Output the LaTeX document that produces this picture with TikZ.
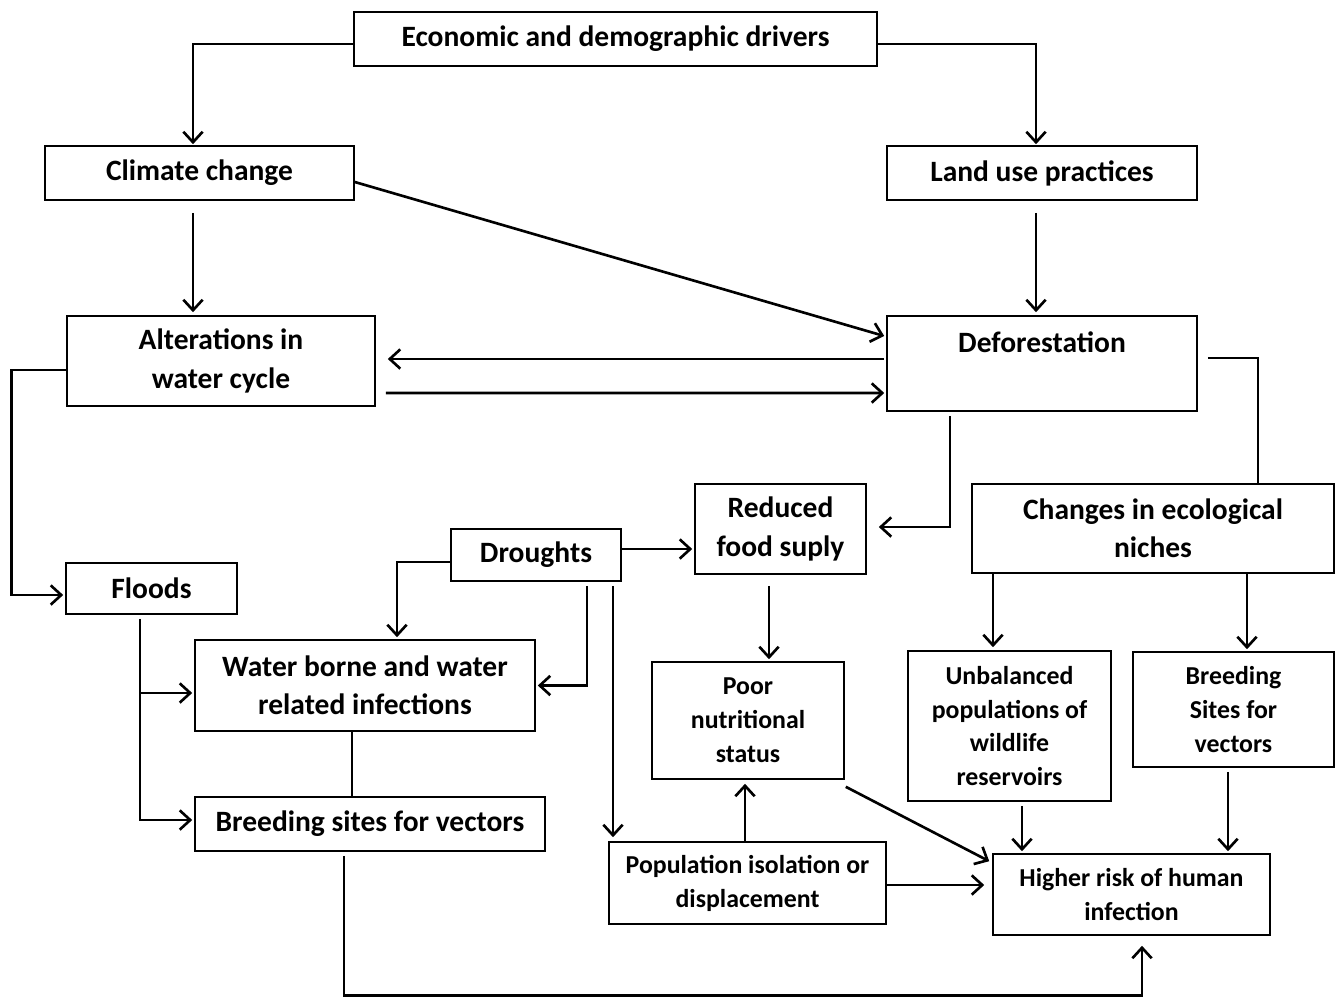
\documentclass[tikz,border=0pt]{standalone}
\usepackage{fontspec}
\setmainfont{Carlito}
\usetikzlibrary{arrows.meta,calc}
\begin{document}
\begin{tikzpicture}[x=0.02cm,y=-0.02cm,
  box/.style n args={2}{draw, line width=0.9pt, minimum width=#1*0.02cm, minimum height=#2*0.02cm,
    inner sep=0pt, align=center, font=\bfseries\fontsize{16.8}{21.8}\selectfont},
  tight/.style={font=\bfseries\fontsize{14.7}{19.3}\selectfont},
  txt/.style={inner sep=0pt, align=center, font=\bfseries\fontsize{16.8}{21.8}\selectfont},
  conn/.style={line width=1.5pt},
  arr/.style={conn, -{Straight Barb[length=6pt,width=11pt,line width=1.5pt]}}]
\useasboundingbox (0,0) rectangle (1339,998);
% boxes
\node[box={523}{54}] (econ) at (615.5,39) {Economic and demographic drivers};
\node[box={309}{54}] (climate) at (199.5,173) {Climate change};
\node[box={310}{54}] (land) at (1042,173) {Land use practices};
\node[box={308}{90}] (alter) at (221,361) {Alterations in\\water cycle};
\node[box={310}{95}] (defo) at (1042,363.5) {};
\node[txt] (defot) at (1042,342) {Deforestation};
\node[box={171}{90}] (reduced) at (780.5,529) {Reduced\\food suply};
\node[box={362}{89}] (changes) at (1153,528.5) {Changes in ecological\\niches};
\node[box={170}{52}] (droughts) at (536,555) {Droughts};
\node[box={171}{51}] (floods) at (151.5,588.5) {Floods};
\node[box={340}{91}] (water) at (365,685.5) {Water borne and water\\related infections};
\node[box={192}{117}, tight] (poor) at (748,720.5) {Poor\\nutritional\\status};
\node[box={203}{150}, tight] (unbal) at (1009.5,726) {Unbalanced\\populations of\\wildlife\\reservoirs};
\node[box={201}{115}, tight] (breedr) at (1233.5,709.5) {Breeding\\Sites for\\vectors};
\node[box={350}{54}] (breedl) at (370,824) {Breeding sites for vectors};
\node[box={277}{82}, tight] (popul) at (747.5,883) {Population isolation or\\displacement};
\node[box={277}{81}, tight] (higher) at (1131.5,894.5) {Higher risk of human\\infection};
% connectors
\draw[arr] ($(econ.west)+(0,5)$) -| ($(climate.north)+(-6.5,-1)$);
\draw[arr] ($(econ.east)+(0,5)$) -| ($(land.north)+(-6,-1)$);
\draw[arr] ($(climate.south)+(-6.5,12)$) -- ($(climate.south |- alter.north)+(-6.5,-3)$);
\draw[arr] ($(climate.east)+(0,9)$) -- ($(defo.west)+(-2,-27.5)$);
\draw[arr] ($(land.south)+(-6,12)$) -- ($(land.south |- defo.north)+(-6,-3)$);
\draw[arr] ($(defo.west)+(-2,-4.5)$) -- ($(alter.east)+(12,-2)$);
\draw[arr] ($(alter.east)+(10,32)$) -- ($(defo.west)+(-2,29.5)$);
\draw[arr] ($(alter.west)+(0,9)$) -- ++(-55,0) |- ($(floods.west)+(-2,6.5)$);
\draw[arr] ($(defo.south)+(-92,4)$) |- ($(reduced.east)+(12,-2)$);
\draw[conn] ($(defo.east)+(10,-5.5)$) -| ($(changes.north)+(105,0)$);
\draw[arr] ($(droughts.east)+(0,-6)$) -- ($(reduced.west)+(-2,20)$);
\draw[arr] ($(droughts.west)+(0,7)$) -| ($(water.north)+(32,-2)$);
\draw[arr] ($(droughts.south)+(51,4)$) |- ($(water.east)+(2,0)$);
\draw[arr] ($(droughts.south)+(77,4)$) -- ($(droughts.south |- popul.north)+(77,-4)$);
\draw[arr] ($(floods.south)+(-11.5,4)$) |- ($(breedl.west)+(-2,-4)$);
\draw[arr] ($(water.west)+(-55,7.5)$) -- ($(water.west)+(-2,7.5)$);
\draw[conn] ($(water.south)+(-13,0)$) -- ($(breedl.north)+(-18,0)$);
\draw[arr] ($(breedl.south)+(-26,4)$) -- ++(0,140) -| ($(higher.south)+(10.5,10)$);
\draw[arr] ($(reduced.south)+(-11.5,11)$) -- ($(reduced.south |- poor.north)+(-11.5,-2)$);
\draw[arr] ($(popul.north)+(-2.5,0)$) -- ($(popul.north |- poor.south)+(-2.5,4)$);
\draw[arr] ($(poor.south east)+(1,7)$) -- ($(higher.north west)+(-3,8)$);
\draw[arr] ($(popul.east)+(0,2)$) -- ($(higher.west)+(-8,-9.5)$);
\draw[arr] ($(changes.south)+(-160,0)$) -- ($(changes.south |- unbal.north)+(-160,-3)$);
\draw[arr] ($(changes.south)+(94,0)$) -- ($(changes.south |- breedr.north)+(94,-2)$);
\draw[arr] ($(unbal.south)+(12.5,4)$) -- ($(unbal.south |- higher.north)+(12.5,-2)$);
\draw[arr] ($(breedr.south)+(-5.5,4)$) -- ($(breedr.south |- higher.north)+(-5.5,-2)$);
\end{tikzpicture}
\end{document}
